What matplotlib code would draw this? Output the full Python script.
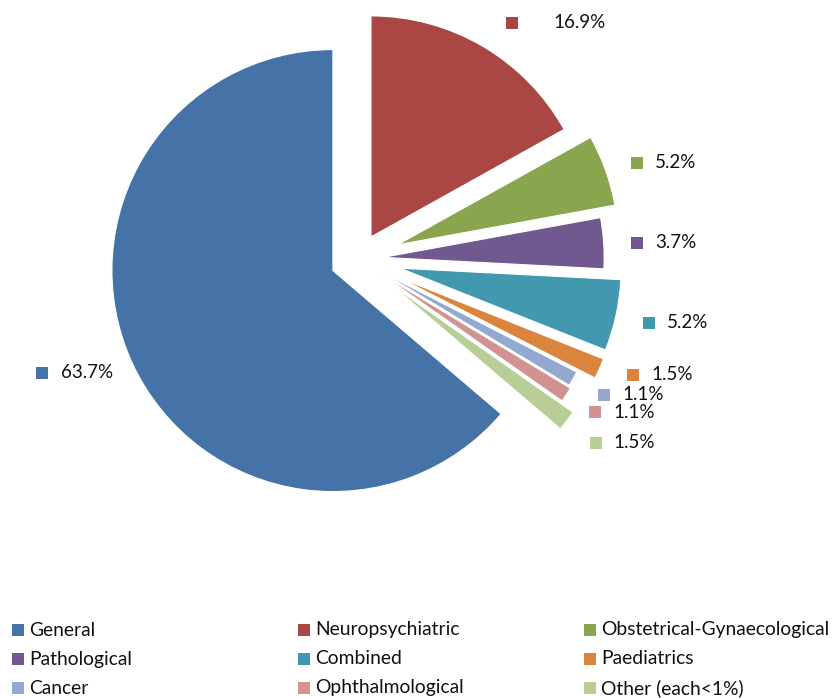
import matplotlib
matplotlib.use("Agg")
import matplotlib.pyplot as plt
from matplotlib.patches import Rectangle

plt.rcParams['font.family'] = ['Lato', 'DejaVu Sans']

categories = ["General", "Neuropsychiatric", "Obstetrical-Gynaecological",
              "Pathological", "Combined", "Paediatrics",
              "Cancer", "Ophthalmological", "Other (each<1%)"]
values = [63.7, 16.9, 5.2, 3.7, 5.2, 1.5, 1.1, 1.1, 1.5]
colors = ["#4572A7", "#AA4643", "#89A54E", "#71588F", "#4198AF",
          "#DB843D", "#93A9CF", "#D19392", "#B9CD96"]
explode = [0.125, 0.116, 0.19, 0.114, 0.195, 0.2, 0.114, 0.125, 0.195]

# drawing order (clockwise from 12 o'clock)
pie_order = [1, 2, 3, 4, 5, 6, 7, 8, 0]

W, H = 832, 698
R = 221
fig = plt.figure(figsize=(W / 100, H / 100), dpi=100)
ax = fig.add_axes([0, 0, 1, 1])


def Y(y):
    return H - y


ax.pie([values[i] for i in pie_order],
       colors=[colors[i] for i in pie_order],
       explode=[explode[i] * R for i in pie_order],
       startangle=90, counterclock=False,
       radius=R, center=(358, Y(259)), frame=True,
       wedgeprops=dict(linewidth=0.8, edgecolor="white"))

ax.set_xlim(0, W)
ax.set_ylim(0, H)
ax.set_aspect("equal")
ax.axis("off")

# data labels: (square centre x, y, text x)
label_pos = [(42, 373, 61), (512, 23, 553), (637, 163, 655), (637, 243, 655),
             (649, 323, 667), (633, 375, 651), (604, 395, 622),
             (595, 412, 613), (596, 443, 613)]
sq = 12
for i, (sx, sy, tx) in enumerate(label_pos):
    ax.add_patch(Rectangle((sx - sq / 2, Y(sy) - sq / 2), sq, sq,
                           color=colors[i], lw=0))
    ax.text(tx, Y(sy), f"{values[i]:.1f}%", fontsize=13.5,
            va="center", ha="left", color="#111111")

# legend
col_x = [12, 298, 584]
row_y = [630, 659, 688]
for i, cat in enumerate(categories):
    r, c = divmod(i, 3)
    x0, y0 = col_x[c], row_y[r]
    ax.add_patch(Rectangle((x0, Y(y0) - 6), 12, 12, color=colors[i], lw=0))
    ax.text(x0 + 17, Y(y0), cat, fontsize=13.9, va="center", ha="left",
            color="#111111")

fig.savefig("out.png", dpi=100)
